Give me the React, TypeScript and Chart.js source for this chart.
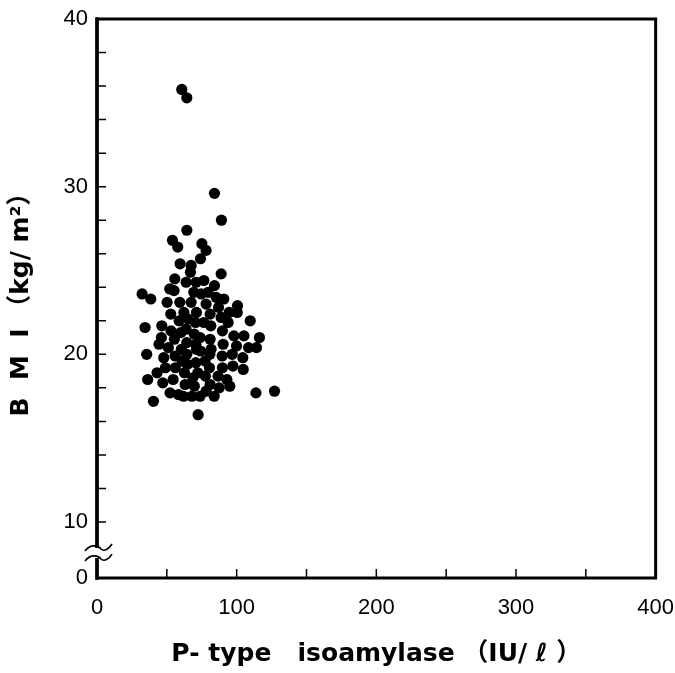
import { useEffect, useRef } from "react";
import { Chart, registerables } from "chart.js";

Chart.register(...registerables);

// P-type isoamylase (IU/l)
const isoamylase = [
  60.7, 64.3, 84.1, 89.1, 64.3, 54.0, 75.1, 57.8, 78.1, 74.1,
  59.5, 67.4, 66.9, 88.9, 55.7, 63.8, 71.0, 76.5, 84.1, 52.1,
  55.2, 69.3, 74.6, 79.6, 32.3, 38.5, 85.3, 90.8, 50.2, 59.3,
  67.4, 78.1, 87.0, 100.6, 52.8, 62.2, 71.2, 81.0, 88.9, 94.6,
  100.4, 109.7, 58.8, 65.2, 70.5, 76.5, 81.5, 93.9, 46.4, 34.4,
  53.0, 60.0, 63.8, 69.7, 73.8, 81.0, 89.8, 98.0, 105.2, 116.3,
  46.1, 55.4, 64.3, 70.8, 44.4, 51.1, 60.4, 71.2, 81.7, 90.3,
  99.9, 108.5, 114.2, 35.6, 47.8, 55.9, 64.3, 74.1, 80.8, 89.6,
  96.8, 104.4, 60.9, 70.8, 77.4, 49.0, 56.1, 64.7, 80.5, 89.8,
  97.3, 104.7, 43.0, 62.6, 72.2, 36.3, 54.5, 68.6, 77.6, 86.7,
  93.0, 47.1, 63.1, 69.7, 81.0, 87.5, 95.1, 52.3, 58.3, 61.9,
  67.9, 73.8, 78.1, 83.9, 113.8, 127.1, 40.4, 72.4,
];

// BMI (kg/m2)
const bmi = [
  35.8, 35.3, 29.6, 28.0, 27.4, 26.8, 26.6, 26.4, 26.2, 25.7,
  25.4, 25.3, 24.9, 24.8, 24.5, 24.3, 24.3, 24.4, 24.1, 23.9,
  23.8, 23.7, 23.6, 23.7, 23.6, 23.3, 23.4, 23.3, 23.1, 23.1,
  23.1, 23.0, 22.8, 22.9, 22.4, 22.5, 22.5, 22.4, 22.2, 22.5,
  22.5, 22.0, 22.0, 22.1, 21.9, 21.9, 21.7, 21.9, 21.7, 21.6,
  21.4, 21.3, 21.5, 21.2, 21.0, 20.9, 21.4, 21.1, 21.1, 21.0,
  21.0, 20.9, 20.7, 20.6, 20.6, 20.4, 20.3, 20.3, 20.3, 20.6,
  20.5, 20.4, 20.4, 20.0, 19.8, 19.9, 20.0, 20.2, 20.0, 19.9,
  20.0, 19.8, 19.6, 19.5, 19.6, 19.2, 19.2, 19.4, 19.2, 19.2,
  19.3, 19.1, 18.9, 18.9, 18.9, 18.5, 18.5, 18.6, 18.7, 18.7,
  18.5, 18.3, 18.2, 18.1, 18.2, 18.0, 18.1, 17.7, 17.6, 17.5,
  17.5, 17.5, 17.8, 17.5, 17.7, 17.8, 17.2, 16.4,
];

const xTickValues = [0, 100, 200, 300, 400];
const xInnerTicks = [50, 100, 150, 200, 250, 300, 350];
const yLabelValues = [10, 20, 30, 40];
const yInnerTicks = [10, 12, 14, 16, 18, 20, 22, 24, 26, 28, 30, 32, 34, 36, 38];
// broken axis: the bottom of the y axis is labelled "0"
const yBottom = 6.66;
const yBreakValues = [8.45, 7.85];

const tickFont = { family: "'Liberation Sans', Arial, sans-serif", size: 22 };
const titleFont = {
  family: "'DejaVu Sans', 'Noto Sans CJK JP', sans-serif",
  size: 25,
  weight: "bold" as const,
};

const framePlugin = {
  id: "frame",
  afterDraw(chart: any) {
    const { ctx, chartArea } = chart;
    const xs = chart.scales.x;
    const ys = chart.scales.y;
    const { left, right, top, bottom } = chartArea;
    ctx.save();
    ctx.strokeStyle = "#000";
    ctx.lineCap = "square";
    ctx.lineWidth = 3;
    ctx.beginPath();
    ctx.moveTo(left, top);
    ctx.lineTo(right, top);
    ctx.lineTo(right, bottom);
    ctx.lineTo(left, bottom);
    ctx.closePath();
    ctx.stroke();
    ctx.lineWidth = 3.5;
    ctx.beginPath();
    ctx.moveTo(left, top);
    ctx.lineTo(left, bottom);
    ctx.stroke();
    // inward ticks
    ctx.lineWidth = 1.5;
    ctx.lineCap = "butt";
    ctx.beginPath();
    for (const v of yInnerTicks) {
      const y = ys.getPixelForValue(v);
      ctx.moveTo(left, y);
      ctx.lineTo(left + 9, y);
    }
    for (const v of xInnerTicks) {
      const x = xs.getPixelForValue(v);
      ctx.moveTo(x, bottom);
      ctx.lineTo(x, bottom - 9);
    }
    ctx.stroke();
    // axis break marks
    const y1 = ys.getPixelForValue(yBreakValues[0]);
    const y2 = ys.getPixelForValue(yBreakValues[1]);
    ctx.fillStyle = "#fff";
    ctx.fillRect(left - 3, y1, 6, y2 - y1);
    ctx.lineWidth = 1.6;
    for (const y of [y1, y2]) {
      ctx.beginPath();
      ctx.moveTo(left - 12, y + 3);
      ctx.bezierCurveTo(left - 6, y - 5, left + 2, y - 2, left + 4, y + 1);
      ctx.bezierCurveTo(left + 7, y + 4, left + 12, y + 1, left + 15, y - 4);
      ctx.stroke();
    }
    ctx.restore();
  },
};

export default function App() {
  const canvasRef = useRef<HTMLCanvasElement>(null);

  useEffect(() => {
    if (!canvasRef.current) return;
    const points = isoamylase.map((x, i) => ({ x, y: bmi[i] }));
    const chart = new Chart(canvasRef.current, {
      type: "scatter",
      data: {
        datasets: [
          {
            data: points,
            backgroundColor: "#000",
            borderColor: "#000",
            borderWidth: 0,
            pointRadius: 5.6,
            pointHoverRadius: 5.6,
          },
        ],
      },
      plugins: [framePlugin],
      options: {
        animation: false,
        responsive: true,
        maintainAspectRatio: false,
        events: [],
        layout: { padding: { top: 19, right: 0, left: 0, bottom: 0 } },
        plugins: { legend: { display: false }, tooltip: { enabled: false } },
        scales: {
          x: {
            type: "linear",
            min: 0,
            max: 400,
            afterBuildTicks: (scale: any) => {
              scale.ticks = xTickValues.map((v) => ({ value: v }));
            },
            afterFit: (scale: any) => {
              scale.height = 95;
            },
            grid: {
              display: true,
              drawOnChartArea: false,
              drawTicks: true,
              tickLength: 16,
              color: "rgba(0,0,0,0)",
            },
            border: { display: false },
            ticks: {
              color: "#000",
              font: tickFont,
              padding: 1,
              maxRotation: 0,
              autoSkip: false,
              callback: (v: any) => String(v),
            },
            title: {
              display: true,
              text: "P- type   isoamylase （IU/ ℓ ）",
              color: "#000",
              font: titleFont,
              padding: { top: 0, bottom: 4 },
            },
          },
          y: {
            type: "linear",
            min: yBottom,
            max: 40,
            afterBuildTicks: (scale: any) => {
              scale.ticks = [yBottom, ...yLabelValues].map((v) => ({ value: v }));
            },
            afterFit: (scale: any) => {
              scale.width = 97;
            },
            grid: {
              display: true,
              drawOnChartArea: false,
              drawTicks: true,
              tickLength: 8,
              color: "rgba(0,0,0,0)",
            },
            border: { display: false },
            ticks: {
              color: "#000",
              font: tickFont,
              padding: 1,
              autoSkip: false,
              callback: (v: any) => (v === yBottom ? "0" : String(v)),
            },
            title: {
              display: true,
              text: "B  M  I （kg/ m²）",
              color: "#000",
              font: titleFont,
              padding: { top: 6, bottom: 0 },
            },
          },
        },
      },
    });
    return () => chart.destroy();
  }, []);

  return (
    <div style={{ position: "absolute", left: 0, top: 0, width: 675, height: 673, background: "#fff" }}>
      <canvas ref={canvasRef} />
    </div>
  );
}
